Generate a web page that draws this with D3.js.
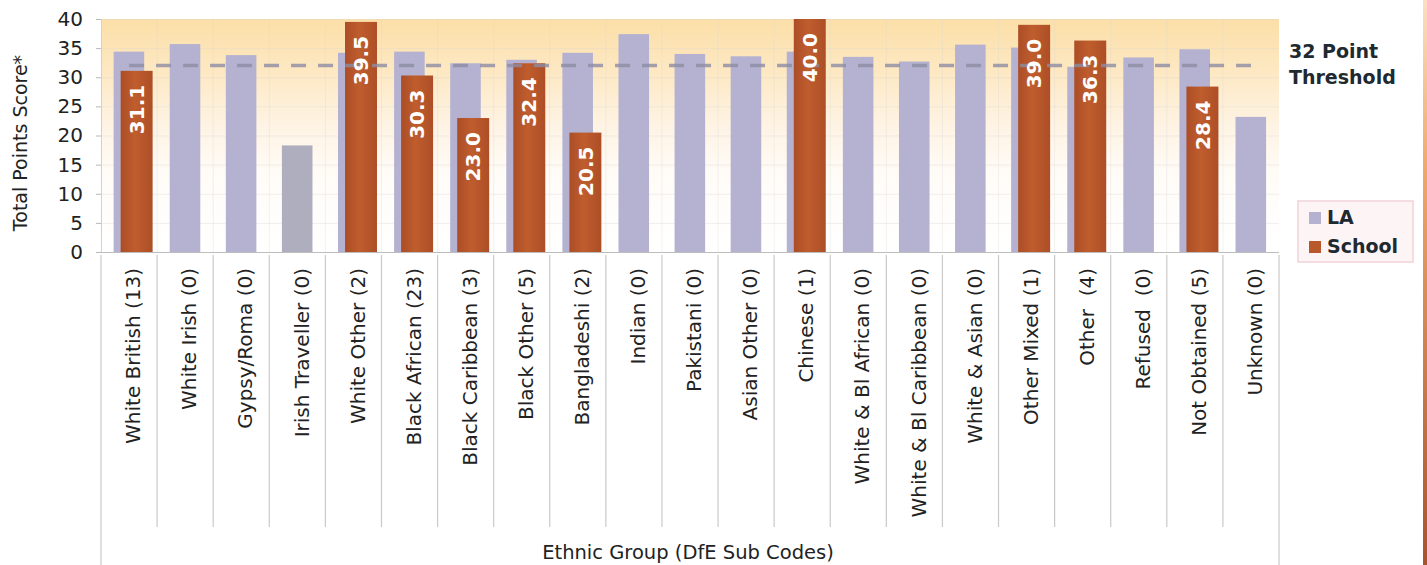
<!DOCTYPE html>
<html>
<head>
<meta charset="utf-8">
<script src="https://cdn.jsdelivr.net/npm/d3@7"></script>
<style>
  html, body { margin: 0; padding: 0; background: #ffffff; }
  svg { display: block; font-family: "DejaVu Sans", Verdana, sans-serif; }
</style>
</head>
<body>
<svg id="chart" width="1427" height="565"></svg>
<script>
// ---- data ----
const categories = [
  "White British (13)", "White Irish (0)", "Gypsy/Roma (0)", "Irish Traveller (0)",
  "White Other (2)", "Black African (23)", "Black Caribbean (3)", "Black Other (5)",
  "Bangladeshi (2)", "Indian (0)", "Pakistani (0)", "Asian Other (0)", "Chinese (1)",
  "White & Bl African (0)", "White & Bl Caribbean (0)", "White & Asian (0)",
  "Other Mixed (1)", "Other  (4)", "Refused  (0)", "Not Obtained (5)", "Unknown (0)"
];
const laValues = [34.4, 35.7, 33.8, 18.3, 34.2, 34.4, 32.4, 33.0, 34.2, 37.4, 34.0,
                  33.6, 34.4, 33.5, 32.7, 35.6, 35.1, 31.8, 33.4, 34.8, 23.2];
const schoolValues = [31.1, null, null, null, 39.5, 30.3, 23.0, 32.4, 20.5, null, null,
                      null, 40.0, null, null, null, 39.0, 36.3, null, 28.4, null];
const thresholdValue = 32;
const yTickValues = [0, 5, 10, 15, 20, 25, 30, 35, 40];
const seriesNames = ["LA", "School"];
const thresholdLines = ["32 Point", "Threshold"];
const yTitle = "Total Points Score*";
const xTitle = "Ethnic Group (DfE Sub Codes)";

// ---- layout ----
const svg = d3.select("#chart");
const plot = { left: 101, right: 1279, top: 19, bottom: 252 };
const laColor = "#b4b2d0", laGreyColor = "#aeaebe", textColor = "#222";
const greyBars = new Set(["Irish Traveller (0)"]);

const x = d3.scaleBand().domain(categories).range([plot.left, plot.right]).padding(0);
const y = d3.scaleLinear().domain([0, 40]).range([plot.bottom, plot.top]);
const bw = x.bandwidth();

const defs = svg.append("defs");
const bg = defs.append("linearGradient").attr("id", "bgGrad")
  .attr("x1", 0).attr("x2", 0).attr("y1", 0).attr("y2", 1);
[[0, "#fcdfa8"], [0.22, "#fde8c2"], [0.45, "#fef3e3"], [0.68, "#fffcf8"], [1, "#ffffff"]]
  .forEach(([o, c]) => bg.append("stop").attr("offset", o).attr("stop-color", c));
const sg = defs.append("linearGradient").attr("id", "schoolGrad")
  .attr("x1", 0).attr("x2", 1).attr("y1", 0).attr("y2", 0);
[[0, "#ac4d26"], [0.45, "#bf5d2d"], [1, "#ad4e27"]]
  .forEach(([o, c]) => sg.append("stop").attr("offset", o).attr("stop-color", c));
const eg = defs.append("linearGradient").attr("id", "edgeGrad")
  .attr("x1", 0).attr("x2", 0).attr("y1", 0).attr("y2", 1);
[[0, "#fbe0c0"], [0.3, "#f0a868"], [1, "#a9532b"]]
  .forEach(([o, c]) => eg.append("stop").attr("offset", o).attr("stop-color", c));

// plot background
svg.append("rect").attr("x", plot.left).attr("y", plot.top)
  .attr("width", plot.right - plot.left).attr("height", plot.bottom - plot.top)
  .attr("fill", "url(#bgGrad)");

// faint grid
svg.append("g").selectAll("line").data(yTickValues.slice(1)).join("line")
  .attr("x1", plot.left).attr("x2", plot.right)
  .attr("y1", d => y(d) + 0.5).attr("y2", d => y(d) + 0.5)
  .attr("stroke", "#d8d4d0").attr("stroke-opacity", 0.35);
svg.append("g").selectAll("line").data(categories.slice(1)).join("line")
  .attr("x1", d => x(d)).attr("x2", d => x(d))
  .attr("y1", plot.top).attr("y2", plot.bottom)
  .attr("stroke", "#d8d4d0").attr("stroke-opacity", 0.3);

// plot left border
svg.append("line").attr("x1", plot.left + 0.5).attr("x2", plot.left + 0.5)
  .attr("y1", plot.top).attr("y2", plot.bottom).attr("stroke", "#d6d0cc");

// LA bars
svg.append("g").selectAll("rect").data(categories).join("rect")
  .attr("x", d => x(d) + bw * 0.225)
  .attr("width", bw * 0.545)
  .attr("y", (d, i) => y(laValues[i]))
  .attr("height", (d, i) => y(0) - y(laValues[i]))
  .attr("fill", d => greyBars.has(d) ? laGreyColor : laColor);

// School bars
const schoolData = categories.map((c, i) => ({ c, v: schoolValues[i] })).filter(d => d.v != null);
svg.append("g").selectAll("rect").data(schoolData).join("rect")
  .attr("x", d => x(d.c) + bw * 0.35)
  .attr("width", bw * 0.57)
  .attr("y", d => y(d.v))
  .attr("height", d => y(0) - y(d.v))
  .attr("fill", "url(#schoolGrad)");

// threshold dashed line through category centres
const line = d3.line().x(d => x(d) + bw / 2).y(() => y(thresholdValue));
svg.append("path").datum(categories).attr("d", line)
  .attr("fill", "none").attr("stroke", "#8c8ca2").attr("stroke-width", 3.5)
  .attr("stroke-opacity", 0.8).attr("stroke-dasharray", "15,12");

// value labels
svg.append("g").selectAll("text").data(schoolData).join("text")
  .attr("transform", d => `translate(${x(d.c) + bw * 0.35 + bw * 0.285},${y(d.v) + 14}) rotate(-90)`)
  .attr("text-anchor", "end").attr("dy", "0.36em")
  .attr("font-size", 20).attr("font-weight", "bold").attr("fill", "#ffffff")
  .text(d => d.v.toFixed(1));

// x axis line
svg.append("line").attr("x1", plot.left).attr("x2", plot.right)
  .attr("y1", plot.bottom + 0.5).attr("y2", plot.bottom + 0.5)
  .attr("stroke", "#bdbdbd").attr("stroke-width", 1.2);

// category separators
const bounds = categories.map(c => x(c)).concat([plot.right]);
svg.append("g").selectAll("line").data(bounds).join("line")
  .attr("x1", d => d).attr("x2", d => d)
  .attr("y1", plot.bottom + 3)
  .attr("y2", (d, i) => (i === 0 || i === bounds.length - 1) ? 565 : 527)
  .attr("stroke", "#c9c9c9").attr("stroke-width", 1.2);

// category labels
svg.append("g").selectAll("text").data(categories).join("text")
  .attr("transform", d => `translate(${x(d) + bw / 2 + 4},${plot.bottom + 16}) rotate(-90)`)
  .attr("text-anchor", "end").attr("dy", "0.36em")
  .attr("font-size", 20).attr("fill", textColor)
  .style("white-space", "pre")
  .text(d => d);

// y axis ticks + labels
const yAxis = d3.axisLeft(y).tickValues(yTickValues).tickSize(5).tickPadding(13);
const gy = svg.append("g").attr("transform", `translate(${plot.left},0)`).call(yAxis);
gy.select(".domain").remove();
gy.selectAll(".tick line").attr("stroke", "#b8b8b8");
gy.selectAll(".tick text").attr("font-size", 20).attr("fill", textColor)
  .attr("font-family", "DejaVu Sans, Verdana, sans-serif");

// axis titles
svg.append("text").attr("transform", "translate(20,143) rotate(-90)")
  .attr("text-anchor", "middle").attr("dy", "0.36em")
  .attr("font-size", 19).attr("fill", textColor).text(yTitle);
svg.append("text").attr("x", 688).attr("y", 559)
  .attr("text-anchor", "middle").attr("font-size", 19.5).attr("fill", textColor).text(xTitle);

// threshold label
svg.append("g").selectAll("text").data(thresholdLines).join("text")
  .attr("x", 1289).attr("y", (d, i) => 58 + i * 26)
  .attr("font-size", 19).attr("font-weight", "bold").attr("fill", "#1e2a30")
  .text(d => d);

// legend
const lg = svg.append("g");
lg.append("rect").attr("x", 1298).attr("y", 201).attr("width", 115).attr("height", 61)
  .attr("fill", "#fdf5f5").attr("stroke", "#f1d2d8").attr("stroke-width", 1.5);
const legendColors = [laColor, "#b9582b"];
seriesNames.forEach((name, i) => {
  lg.append("rect").attr("x", 1309).attr("y", 212 + i * 29).attr("width", 12).attr("height", 12)
    .attr("fill", legendColors[i]);
  lg.append("text").attr("x", 1327).attr("y", 224 + i * 29)
    .attr("font-size", 19).attr("font-weight", "bold").attr("fill", "#1e2a30").text(name);
});

// right edge orange line
svg.append("rect").attr("x", 1423).attr("y", 0).attr("width", 4).attr("height", 565)
  .attr("fill", "url(#edgeGrad)");
</script>
</body>
</html>
